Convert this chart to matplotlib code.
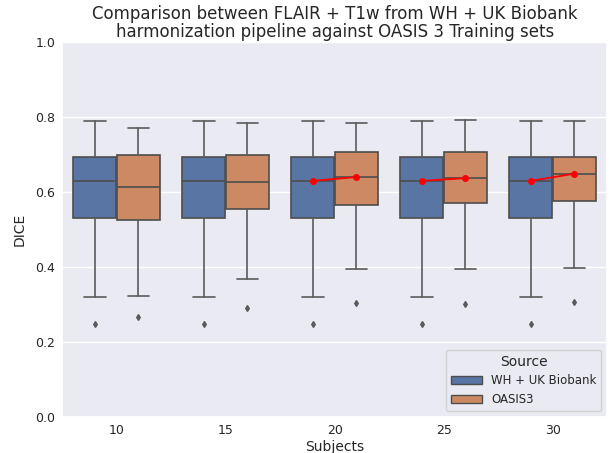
import matplotlib
matplotlib.use("Agg")
import matplotlib.pyplot as plt
import matplotlib.patches as mpatches
import seaborn as sns
import numpy as np

# -----------------------------
# Data
# -----------------------------
subjects = ["10", "15", "20", "25", "30"]
sources = ["WH + UK Biobank", "OASIS3"]

# WH + UK Biobank boxes (same for every subject count)
wh_low = [0.320, 0.320, 0.320, 0.320, 0.320]
wh_q1 = [0.530, 0.530, 0.530, 0.530, 0.530]
wh_med = [0.630, 0.630, 0.630, 0.630, 0.630]
wh_q3 = [0.694, 0.694, 0.694, 0.694, 0.694]
wh_high = [0.790, 0.790, 0.790, 0.790, 0.790]
wh_flier = [0.249, 0.249, 0.249, 0.249, 0.249]

# OASIS3 boxes
oa_low = [0.324, 0.367, 0.395, 0.395, 0.398]
oa_q1 = [0.526, 0.554, 0.566, 0.570, 0.575]
oa_med = [0.613, 0.628, 0.640, 0.637, 0.649]
oa_q3 = [0.699, 0.699, 0.706, 0.706, 0.694]
oa_high = [0.771, 0.783, 0.783, 0.792, 0.790]
oa_flier = [0.267, 0.290, 0.303, 0.301, 0.306]

# subjects where the median trend line is drawn
trend_idx = [2, 3, 4]

# -----------------------------
# Style
# -----------------------------
sns.set_theme(style="darkgrid")
plt.rcParams['font.family'] = ['DejaVu Sans']

pal = sns.color_palette("deep")
colors = [sns.desaturate(pal[0], 0.75), sns.desaturate(pal[1], 0.75)]
line_gray = "#5a5a5a"
edge_gray = "#4d4d4d"

fig = plt.figure(figsize=(6.09, 4.53), dpi=100)
ax = fig.add_axes([0.102, 0.0795, 0.895, 0.8275])
ax.grid(False, axis='x')

width = 0.8
box_w = width / 2
offsets = [-box_w / 2, box_w / 2]

def make_stats(low, q1, med, q3, high, fl):
    return [dict(whislo=low[i], q1=q1[i], med=med[i], q3=q3[i], whishi=high[i],
                 fliers=[fl[i]]) for i in range(len(subjects))]

series = [make_stats(wh_low, wh_q1, wh_med, wh_q3, wh_high, wh_flier),
          make_stats(oa_low, oa_q1, oa_med, oa_q3, oa_high, oa_flier)]

x = np.arange(len(subjects))
lw = 1.2
for k, stats in enumerate(series):
    ax.bxp(stats, positions=x + offsets[k], widths=box_w * 0.98,
           patch_artist=True, manage_ticks=False,
           boxprops=dict(facecolor=colors[k], edgecolor=edge_gray, linewidth=lw),
           medianprops=dict(color=edge_gray, linewidth=lw),
           whiskerprops=dict(color=line_gray, linewidth=lw),
           capprops=dict(color=line_gray, linewidth=lw),
           flierprops=dict(marker='d', markersize=3, markerfacecolor=line_gray,
                           markeredgecolor=line_gray))

# Red median trend lines
for i in trend_idx:
    ax.plot([x[i] + offsets[0], x[i] + offsets[1]], [wh_med[i], oa_med[i]],
            color="red", marker='o', markersize=4, linewidth=1.3, zorder=5)

ax.set_xlim(-0.5, len(subjects) - 0.5)
ax.set_ylim(0, 1.0)
ax.set_xticks(x)
ax.set_xticklabels(subjects)
ax.set_yticks([0.0, 0.2, 0.4, 0.6, 0.8, 1.0])
ax.tick_params(labelsize=9, length=0, pad=5)
ax.set_xlabel("Subjects", fontsize=10, labelpad=2)
ax.set_ylabel("DICE", fontsize=10, labelpad=6)
ax.set_title("Comparison between FLAIR + T1w from WH + UK Biobank\n"
             "harmonization pipeline against OASIS 3 Training sets", fontsize=12,
             pad=4, linespacing=1.0)

handles = [mpatches.Patch(facecolor=colors[k], edgecolor=edge_gray, label=sources[k])
           for k in range(2)]
ax.legend(handles=handles, title="Source", loc='lower right', fontsize=8.5,
          title_fontsize=10, handlelength=2.6)

fig.savefig("out.png", dpi=100)
